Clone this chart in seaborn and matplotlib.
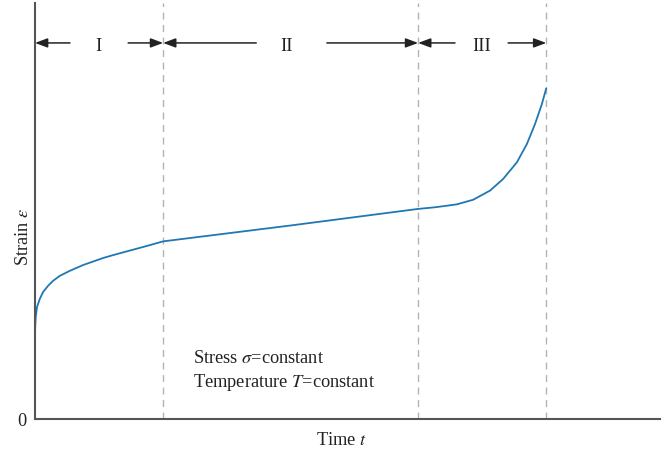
import matplotlib
matplotlib.use("Agg")
import matplotlib.pyplot as plt
import seaborn as sns
import pandas as pd

# Creep curve: strain vs. time (arbitrary units, 0-100 on both axes)
time_t = [0, 0.03, 0.11, 0.32, 0.75, 1.28, 2.08, 2.88, 3.95, 5.55, 7.68,
          10.9, 12.5, 15.2, 17.9, 20.5,
          40.8, 61.3, 63.7, 64.8, 67.5, 70.1, 72.8, 74.9, 77.1, 78.7,
          80.0, 81.1, 81.8]
strain = [20.0, 22.1, 24.4, 26.9, 28.8, 30.5, 32.0, 33.2, 34.4, 35.6, 37.0,
          38.7, 39.4, 40.5, 41.6, 42.7,
          46.5, 50.5, 50.85, 51.05, 51.6, 52.7, 54.9, 57.7, 61.7, 66.1,
          70.9, 75.7, 79.5]

# Stage boundaries (primary / secondary / tertiary) and labels
stage_bounds = [0, 20.5, 61.3, 81.8]
stage_labels = ["I", "II", "III"]
label_centers = [10.2, 40.3, 71.4]
# arrow shaft ends nearest the labels (left, right) for each stage
shaft_gaps = [(5.6, 14.9), (35.4, 46.7), (67.2, 75.7)]

y_ticks = [0]
y_tick_labels = ["0"]

sns.set_style("white")
plt.rcParams["font.family"] = ["Liberation Serif", "DejaVu Serif"]
plt.rcParams["mathtext.fontset"] = "stix"

FS = 13.2
INK = "#222222"

fig = plt.figure(figsize=(6.65, 4.56), dpi=100)
ax = fig.add_axes([35 / 665, 36 / 456, 625 / 665, 416 / 456])

df = pd.DataFrame({"t": time_t, "strain": strain})
sns.lineplot(data=df, x="t", y="strain", ax=ax, color="#1f77b4", lw=1.3)
for line in ax.get_lines():
    line.set_solid_joinstyle("round")

for xb in stage_bounds[1:]:
    ax.axvline(xb, color="#b3b3b3", lw=1.0, ls=(0, (5, 4)), zorder=0)

arrow_y = 90.4
arrow_kw = dict(arrowstyle="-|>,head_length=0.75,head_width=0.28",
                color=INK, lw=1.1, shrinkA=0, shrinkB=0)
for (x0, x1), (g0, g1), lab, cx in zip(zip(stage_bounds[:-1], stage_bounds[1:]),
                                      shaft_gaps, stage_labels, label_centers):
    ax.annotate("", xy=(x0, arrow_y), xytext=(g0, arrow_y), arrowprops=arrow_kw)
    ax.annotate("", xy=(x1, arrow_y), xytext=(g1, arrow_y), arrowprops=arrow_kw)
    ax.text(cx, arrow_y - 0.6, lab, ha="center", va="center", fontsize=FS,
            color=INK)

ax.text(25.3, 14.9, r"Stress $\sigma$=constant", ha="left", va="center",
        fontsize=FS, color=INK)
ax.text(25.3, 8.9, r"Temperature $T$=constant", ha="left", va="center",
        fontsize=FS, color=INK)

ax.set_xlim(0, 100)
ax.set_ylim(0, 100)
ax.set_xticks([])
ax.set_yticks(y_ticks)
ax.set_yticklabels(y_tick_labels, fontsize=FS, color=INK)
ax.tick_params(axis="y", length=0, pad=6)
ax.set_xlabel(r"Time $t$", fontsize=FS, color=INK)
ax.set_ylabel(r"Strain $\varepsilon$", fontsize=FS, color=INK)
ax.xaxis.set_label_coords(0.491, -0.028)
ax.yaxis.set_label_coords(-0.004, 0.44)

for side in ["top", "right"]:
    ax.spines[side].set_visible(False)
for side in ["left", "bottom"]:
    ax.spines[side].set_color("#555555")
    ax.spines[side].set_linewidth(1.5)

fig.savefig("out.png", dpi=100)
